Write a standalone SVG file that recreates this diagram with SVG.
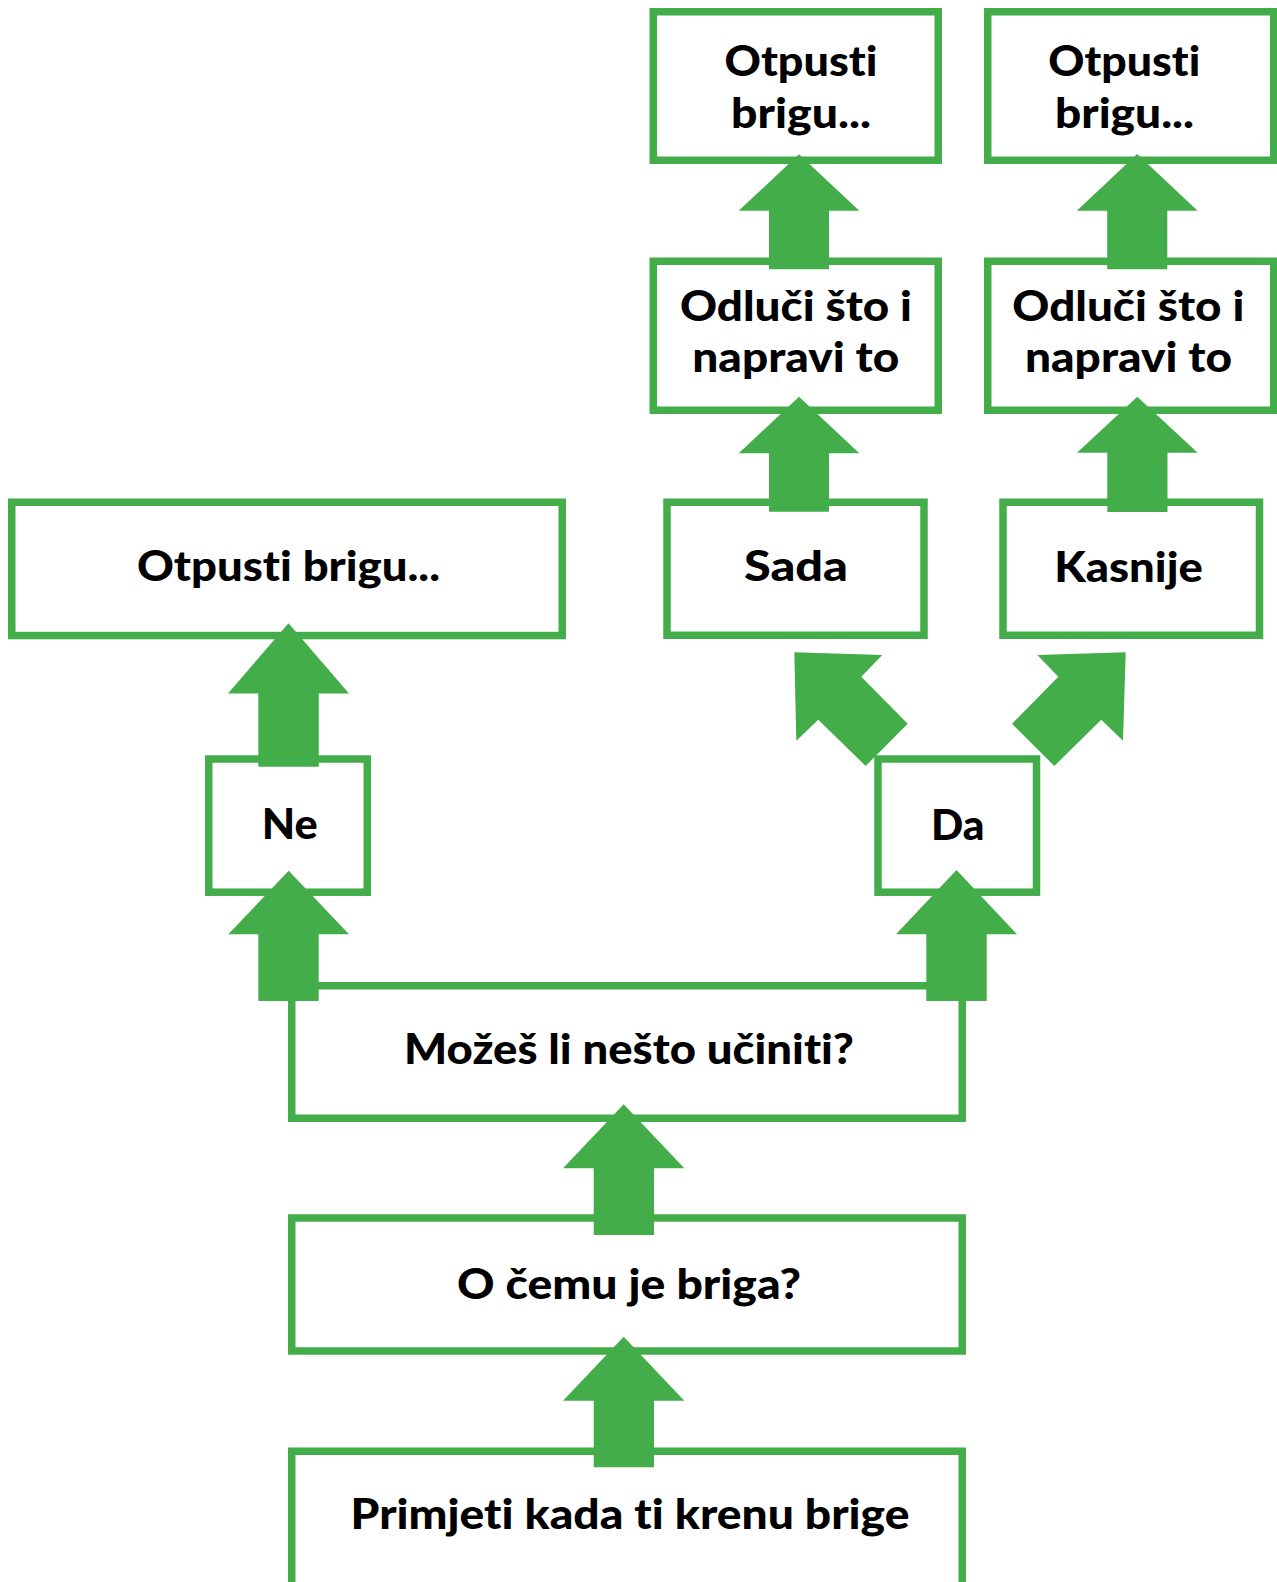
<svg xmlns="http://www.w3.org/2000/svg" width="1277" height="1582" viewBox="0 0 1277 1582">
<style>
.box{fill:#ffffff;stroke:#43ad4a;stroke-width:7.5}
.arr{fill:#43ad4a}
.t{font-family:Lato,"Liberation Sans",sans-serif;font-weight:900;font-size:42px;fill:#000000;font-variant-ligatures:none;font-feature-settings:"liga" 0,"clig" 0}
</style>
<rect x="0" y="0" width="1277" height="1582" fill="#ffffff"/>
<g id="n-otpusti-tl"><rect class="box" x="653.25" y="11.75" width="285" height="148.5"/>
<text class="t" x="724.5" y="76" textLength="153" lengthAdjust="spacingAndGlyphs">Otpusti</text>
<text class="t" x="731" y="127.7" textLength="140" lengthAdjust="spacingAndGlyphs">brigu...</text></g>
<g id="n-otpusti-tr"><rect class="box" x="987.75" y="11.75" width="286" height="148.5"/>
<text class="t" x="1048.3" y="76" textLength="152" lengthAdjust="spacingAndGlyphs">Otpusti</text>
<text class="t" x="1055" y="127.7" textLength="139" lengthAdjust="spacingAndGlyphs">brigu...</text></g>
<g id="n-odluci-l"><rect class="box" x="653.25" y="261.25" width="285" height="149"/>
<text class="t" x="680" y="321" textLength="232" lengthAdjust="spacingAndGlyphs">Odluči što i</text>
<text class="t" x="692.3" y="371.7" textLength="207" lengthAdjust="spacingAndGlyphs">napravi to</text></g>
<g id="n-odluci-r"><rect class="box" x="987.75" y="261.25" width="286" height="149"/>
<text class="t" x="1012.3" y="320.5" textLength="232" lengthAdjust="spacingAndGlyphs">Odluči što i</text>
<text class="t" x="1025" y="371.7" textLength="207" lengthAdjust="spacingAndGlyphs">napravi to</text></g>
<g id="n-otpusti-wide"><rect class="box" x="11.75" y="502.25" width="550.5" height="133.3"/>
<text class="t" x="137" y="581" textLength="303" lengthAdjust="spacingAndGlyphs">Otpusti brigu...</text></g>
<g id="n-sada"><rect class="box" x="667" y="502.25" width="257" height="133"/>
<text class="t" x="744" y="581" textLength="104" lengthAdjust="spacingAndGlyphs">Sada</text></g>
<g id="n-kasnije"><rect class="box" x="1003" y="502.25" width="256.5" height="133"/>
<text class="t" x="1054.3" y="582" textLength="148.5" lengthAdjust="spacingAndGlyphs">Kasnije</text></g>
<g id="n-ne"><rect class="box" x="208.75" y="759" width="158.5" height="133.2"/>
<text class="t" x="261.7" y="839" textLength="56" lengthAdjust="spacingAndGlyphs">Ne</text></g>
<g id="n-da"><rect class="box" x="878" y="759" width="158.5" height="133.2"/>
<text class="t" x="931" y="840" textLength="53.5" lengthAdjust="spacingAndGlyphs">Da</text></g>
<g id="n-mozes"><rect class="box" x="291.75" y="985.75" width="670.5" height="132.5"/>
<text class="t" x="404" y="1064" textLength="450" lengthAdjust="spacingAndGlyphs">Možeš li nešto učiniti?</text></g>
<g id="n-ocemu"><rect class="box" x="291.75" y="1218" width="670.5" height="133"/>
<text class="t" x="457" y="1299" textLength="344" lengthAdjust="spacingAndGlyphs">O čemu je briga?</text></g>
<g id="n-primjeti"><rect class="box" x="291.75" y="1451.25" width="670.5" height="150"/>
<text class="t" x="350.5" y="1529.3" textLength="559" lengthAdjust="spacingAndGlyphs">Primjeti kada ti krenu brige</text></g>
<g id="connectors">
<polygon class="arr" points="799,154.3 859.3,210.7 829,210.7 829,269.3 769,269.3 769,210.7 738.7,210.7"/>
<polygon class="arr" points="1137.2,154 1197.6,210.7 1167.3,210.7 1167.3,269.3 1107.2,269.3 1107.2,210.7 1076.8,210.7"/>
<polygon class="arr" points="799,396.7 859.3,453.3 829,453.3 829,511.7 769,511.7 769,453.3 738.7,453.3"/>
<polygon class="arr" points="1137.3,396.7 1197.7,452.7 1167.5,452.7 1167.5,512 1107.3,512 1107.3,452.7 1077,452.7"/>
<polygon class="arr" points="288.5,623.3 349,693.5 318.8,693.5 318.8,766.7 258.3,766.7 258.3,693.5 228,693.5"/>
<polygon class="arr" points="288.7,870.7 349,934.3 318.7,934.3 318.7,1001 258.3,1001 258.3,934.3 228.3,934.3"/>
<polygon class="arr" points="956.5,870 1017,934.3 986.7,934.3 986.7,1001 926.3,1001 926.3,934.3 896,934.3"/>
<polygon class="arr" points="623.7,1104.3 684.3,1168.3 654,1168.3 654,1235 593.7,1235 593.7,1168.3 563,1168.3"/>
<polygon class="arr" points="623.7,1336.7 684.3,1400.7 654,1400.7 654,1467.3 593.7,1467.3 593.7,1400.7 563,1400.7"/>
<polygon class="arr" points="794.3,652.3 882.3,655 861.3,676.7 907.7,723.7 865.7,766 818.3,719.7 796.3,740.7"/>
<polygon class="arr" points="1125.7,652.3 1123,740.7 1101.3,719.7 1054.3,766 1012,723.7 1058.3,676.7 1037.3,655"/>
</g>
</svg>
